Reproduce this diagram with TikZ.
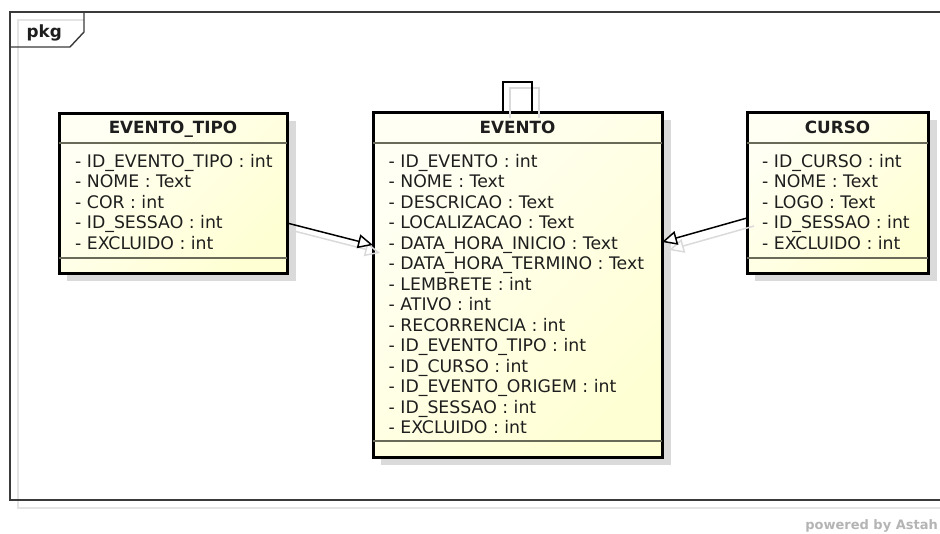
\documentclass[tikz,border=0pt]{standalone}
\usepackage{fontspec}
\setmainfont{DejaVu Sans}
\usetikzlibrary{arrows.meta}

\definecolor{clsfill}{HTML}{FFFFD4}
\definecolor{clslight}{HTML}{FFFFF4}
\definecolor{shadowgray}{HTML}{DADADA}
\definecolor{faintgray}{HTML}{E4E4E4}
\definecolor{framegray}{HTML}{3A3A3A}
\definecolor{sepline}{HTML}{6A6A58}
\definecolor{txt}{HTML}{1E1E1E}
\definecolor{credit}{HTML}{B4B4B4}

\tikzset{
  classbox/.style={draw=black, line width=3pt, outer sep=0pt, inner sep=0pt,
    top color=clslight, bottom color=clsfill, shading angle=45, anchor=north west},
  boxshadow/.style={fill=shadowgray, draw=none},
  sepstyle/.style={draw=sepline, line width=1.3pt},
  header/.style={font=\fontsize{16.8}{20.5}\bfseries\selectfont, text=txt, inner sep=0pt, anchor=base},
  attr/.style={font=\fontsize{17.3}{20.5}\selectfont, text=txt, inner sep=0pt, anchor=base west},
  framestyle/.style={draw=framegray, line width=1.4pt},
  frameshadow/.style={draw=faintgray, line width=1.2pt},
  realize/.style={draw=black, line width=1.5pt,
    -{Triangle[length=15pt, width=14pt, fill=white, line width=1.5pt]}},
  realizeshadow/.style={draw=shadowgray, line width=1.5pt,
    -{Triangle[length=15pt, width=14pt, fill=none, line width=1.5pt]},
    transform canvas={shift={(7pt,-8pt)}}},
  loopline/.style={draw=black, line width=1.5pt},
  loopshadow/.style={draw=shadowgray, line width=1.5pt, transform canvas={shift={(7pt,-6pt)}}},
}

\begin{document}
\begin{tikzpicture}[x=1pt, y=-1pt]
\useasboundingbox (0,0) rectangle (940,533);

% package frame: shadow, outline and name tab
\draw[frameshadow] (950,508) -- (18,508) -- (18,20) -- (84,20);
\draw[framestyle] (950,12) -- (10,12) -- (10,500) -- (950,500);
\draw[framestyle] (84,12) -- (84,32) -- (70,47) -- (10,47);
\node[font=\fontsize{16.8}{20}\bfseries\selectfont, text=txt, inner sep=0pt, anchor=base west] (pkgname) at (26.5,37.3) {pkg};

% drop shadows of the classes
\fill[boxshadow] (67,121) rectangle (296,281);
\fill[boxshadow] (381,120) rectangle (671,465);
\fill[boxshadow] (755,120) rectangle (937,281);

% class EVENTO_TIPO
\node[classbox, minimum width=228pt, minimum height=160pt] (tipo) at (59,113) {};
\draw[sepstyle] ([yshift=-30pt]tipo.north west) -- ([yshift=-30pt]tipo.north east);
\draw[sepstyle] ([yshift=15pt]tipo.south west) -- ([yshift=15pt]tipo.south east);
\node[header] (tipo-name) at (173,133.5) {EVENTO\_TIPO};
\foreach \t [count=\i from 0] in {%
  - ID\_EVENTO\_TIPO : int,
  - NOME : Text,
  - COR : int,
  - ID\_SESSAO : int,
  - EXCLUIDO : int}
  \node[attr] (tipo-a\i) at (75,167+20.5*\i) {\t};

% class EVENTO
\node[classbox, minimum width=289pt, minimum height=345pt] (evento) at (373,112) {};
\draw[sepstyle] ([yshift=-31pt]evento.north west) -- ([yshift=-31pt]evento.north east);
\draw[sepstyle] ([yshift=16pt]evento.south west) -- ([yshift=16pt]evento.south east);
\node[header] (evento-name) at (517.5,133.5) {EVENTO};
\foreach \t [count=\i from 0] in {%
  - ID\_EVENTO : int,
  - NOME : Text,
  - DESCRICAO : Text,
  - LOCALIZACAO : Text,
  - DATA\_HORA\_INICIO : Text,
  - DATA\_HORA\_TERMINO : Text,
  - LEMBRETE : int,
  - ATIVO : int,
  - RECORRENCIA : int,
  - ID\_EVENTO\_TIPO : int,
  - ID\_CURSO : int,
  - ID\_EVENTO\_ORIGEM : int,
  - ID\_SESSAO : int,
  - EXCLUIDO : int}
  \node[attr] (evento-a\i) at (388.5,167+20.5*\i) {\t};

% class CURSO
\node[classbox, minimum width=181pt, minimum height=161pt] (curso) at (747,112) {};
\draw[sepstyle] ([yshift=-31pt]curso.north west) -- ([yshift=-31pt]curso.north east);
\draw[sepstyle] ([yshift=15pt]curso.south west) -- ([yshift=15pt]curso.south east);
\node[header] (curso-name) at (837.5,133.5) {CURSO};
\foreach \t [count=\i from 0] in {%
  - ID\_CURSO : int,
  - NOME : Text,
  - LOGO : Text,
  - ID\_SESSAO : int,
  - EXCLUIDO : int}
  \node[attr] (curso-a\i) at (762,167+20.5*\i) {\t};

% connector shadows
\draw[realizeshadow] ([yshift=-30pt]tipo.east) -- ([yshift=39.5pt]evento.west);
\draw[realizeshadow] ([yshift=-25.5pt]curso.west) -- ([yshift=42.5pt]evento.east);
\draw[loopshadow] ([xshift=-14.5pt]evento.north) -- ++(0,-30) -- ++(29,0) -- ++(0,30);

% connectors
\draw[realize] ([yshift=-30pt]tipo.east) -- ([yshift=39.5pt]evento.west);
\draw[realize] ([yshift=-25.5pt]curso.west) -- ([yshift=42.5pt]evento.east);
\draw[loopline] ([xshift=-14.5pt]evento.north) -- ++(0,-30) -- ++(29,0) -- ++(0,30);

% tool credit
\node[font=\fontsize{13}{15}\bfseries\selectfont, text=credit, inner sep=0pt, anchor=base east] (credit) at (938,529.5) {powered by Astah};
\end{tikzpicture}
\end{document}
